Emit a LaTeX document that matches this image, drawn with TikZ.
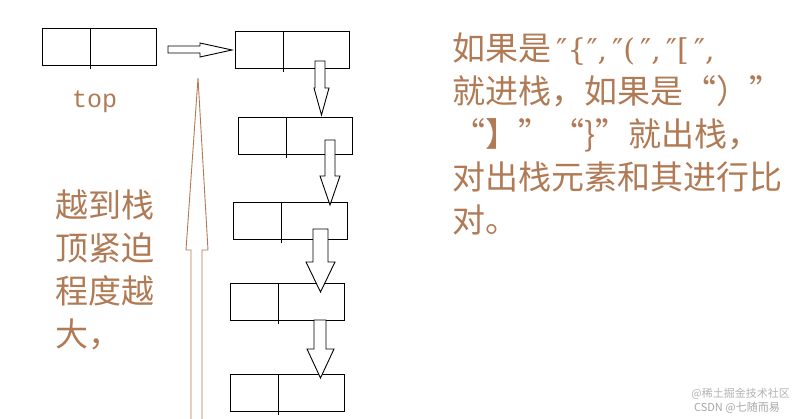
\documentclass[tikz,border=0pt]{standalone}
\usepackage{fontspec}
\newfontfamily\cjk{Noto Sans CJK SC}
\newfontfamily\monof{Liberation Mono}
\newfontfamily\serf{DejaVu Serif}
\definecolor{br}{HTML}{B07A55}
\begin{document}
\begin{tikzpicture}[x=1pt,y=-1pt,
  cell/.style={draw,line width=0.9pt},
  blk/.style={draw,line width=0.9pt,fill=white},
  ctext/.style={font=\cjk\fontsize{33}{33}\selectfont,text=br,anchor=base west,inner sep=0pt}]
\useasboundingbox (0,0) rectangle (796,419);
% boxes
\foreach \n/\x/\y/\d in {b0/42/28/90,b1/235/31/283,b2/238/117/286,b3/233/202/281,b4/230/283/278,b5/230/374/278}{
  \draw[cell] (\x,\y) rectangle ++(114,37);
  \draw[cell] (\d,\y) -- (\d,\y+41);
  \coordinate (\n) at (\x,\y);
}
% right arrow
\draw[blk] (168,46) -- (200,46) -- (200,43) -- (232,50) -- (200,57) -- (200,53) -- (168,53) -- cycle;
% down arrows
\foreach \l/\r/\t/\h/\hl/\hr/\tip in {315/325/61/88/314/329/115, 325/335/140/176/320/340/205, 313/328/229/262/306/335/292, 314/326/320/349/307/334/378}{
  \draw[blk] (\l,\t) -- (\r,\t) -- (\r,\h) -- (\hr,\h) -- ({(\hl+\hr)/2},\tip) -- (\hl,\h) -- (\l,\h) -- cycle;
}
% brown up arrow
\draw[br,line width=0.9pt] (191,419) -- (191,250) -- (186,250) -- (198,78) -- (208,250) -- (202,250) -- (202,419);
% texts
\node[font=\monof\fontsize{25}{25}\selectfont,text=br,anchor=base west,inner sep=0pt] (top) at (72,108) {top};
\node[ctext] (l1) at (55,218) {越到栈};
\node[ctext] (l2) at (55,261) {顶紧迫};
\node[ctext] (l3) at (55,304) {程度越};
\node[ctext] (l4) at (55,347) {大，};
\node[ctext] (r1) at (452,61) {如果是{\serf\fontsize{30}{30}\selectfont\,″\{″,\,″(\,″,\,″[\,″,}};
\node[ctext] (r2) at (452,104) {就进栈，如果是“）”};
\node[ctext] (r3) at (452,147) {“】”“\}”就出栈，};
\node[ctext] (r4) at (452,190) {对出栈元素和其进行比};
\node[ctext] (r5) at (452,233) {对。};
\node[font=\cjk\fontsize{11}{11}\selectfont,text=gray!60,anchor=base east,inner sep=0pt] (wm1) at (790,398) {@稀土掘金技术社区};
\node[font=\cjk\fontsize{11}{11}\selectfont,text=gray!70,anchor=base east,inner sep=0pt] (wm2) at (780,412) {CSDN @七随而易};
\end{tikzpicture}
\end{document}
